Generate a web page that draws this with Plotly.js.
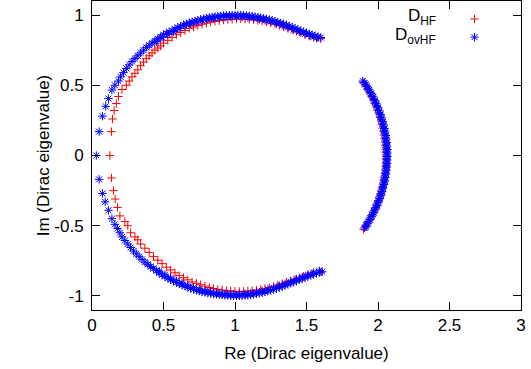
<!DOCTYPE html>
<html>
<head>
<meta charset="utf-8">
<script src="https://cdn.plot.ly/plotly-3.0.1.min.js"></script>
<style>html,body{margin:0;padding:0;background:#fff}#chart{width:531px;height:369px}</style>
</head>
<body>
<div id="chart"></div>
<script>
// D_HF (red +) : left arc upper, left arc lower, right arc
const hfRe = [
  0.125,0.136,0.143,0.155,0.17,0.185,0.21,0.24,0.26,0.28,0.30,0.32,0.34,0.36,0.38,0.40,0.42,0.44,0.46,0.48,0.50,0.53,0.56,0.59,0.62,0.65,0.68,0.71,0.74,0.77,0.80,0.83,0.86,0.89,0.92,0.95,0.98,1.01,1.04,1.07,1.10,1.13,1.16,1.19,1.22,1.25,1.28,1.31,1.34,1.37,1.40,1.43,1.46,1.49,1.52,1.55,1.58,1.60,
  0.136,0.15,0.162,0.178,0.195,0.23,0.25,0.27,0.30,0.32,0.34,0.37,0.40,0.43,0.46,0.49,0.52,0.55,0.58,0.61,0.64,0.67,0.70,0.73,0.76,0.79,0.82,0.85,0.88,0.91,0.94,0.97,1.00,1.03,1.06,1.09,1.12,1.15,1.18,1.21,1.24,1.27,1.30,1.33,1.36,1.39,1.42,1.45,1.48,1.51,1.54,1.57,1.60,
  1.897,1.913,1.928,1.942,1.955,1.967,1.978,1.988,1.997,2.006,2.014,2.021,2.027,2.033,2.038,2.042,2.046,2.049,2.052,2.054,2.055,2.056,2.056,2.055,2.053,2.051,2.048,2.044,2.040,2.035,2.029,2.023,2.016,2.008,1.999,1.989,1.979,1.967,1.955,1.942,1.928,1.913,1.899
];
const hfIm = [
  0.0,0.17,0.26,0.32,0.37,0.42,0.47,0.50,0.53,0.56,0.585,0.61,0.64,0.665,0.69,0.71,0.73,0.75,0.765,0.78,0.80,0.82,0.84,0.86,0.875,0.89,0.905,0.915,0.925,0.935,0.943,0.95,0.955,0.96,0.965,0.968,0.97,0.972,0.973,0.972,0.97,0.967,0.962,0.957,0.95,0.943,0.935,0.926,0.916,0.905,0.895,0.884,0.872,0.861,0.85,0.843,0.836,0.832,
  -0.16,-0.25,-0.31,-0.37,-0.43,-0.47,-0.50,-0.55,-0.58,-0.60,-0.63,-0.66,-0.69,-0.72,-0.745,-0.77,-0.795,-0.815,-0.835,-0.855,-0.87,-0.885,-0.90,-0.91,-0.92,-0.93,-0.94,-0.947,-0.953,-0.958,-0.962,-0.965,-0.967,-0.968,-0.967,-0.965,-0.962,-0.958,-0.953,-0.947,-0.94,-0.932,-0.923,-0.913,-0.903,-0.893,-0.882,-0.871,-0.86,-0.85,-0.842,-0.835,-0.83,
  0.52,0.495,0.47,0.445,0.42,0.395,0.37,0.345,0.32,0.295,0.27,0.245,0.22,0.195,0.17,0.145,0.12,0.095,0.07,0.045,0.02,-0.005,-0.03,-0.055,-0.08,-0.105,-0.13,-0.155,-0.18,-0.205,-0.23,-0.255,-0.28,-0.305,-0.33,-0.355,-0.38,-0.405,-0.43,-0.455,-0.48,-0.505,-0.525
];
// D_ovHF (blue asterisk)
const ovRe = [
  0.03,0.05,0.073,0.096,0.115,0.139,0.16,0.185,0.20,0.22,0.24,0.26,0.28,0.30,0.32,0.34,0.36,0.38,0.40,0.42,0.44,0.46,0.48,0.50,0.52,0.54,0.56,0.58,0.60,0.62,0.64,0.66,0.68,0.70,0.72,0.74,0.76,0.78,0.80,0.82,0.84,0.86,0.88,0.90,0.92,0.94,0.96,0.98,1.00,1.02,1.04,1.06,1.08,1.10,1.12,1.14,1.16,1.18,1.20,1.22,1.24,1.26,1.28,1.30,1.32,1.34,1.36,1.38,1.40,1.42,1.44,1.46,1.48,1.50,1.52,1.54,1.56,1.58,1.60,
  0.45,0.49,0.53,0.57,0.61,0.65,0.69,0.73,0.77,0.81,0.85,0.89,0.93,0.97,1.01,1.05,1.09,1.13,1.17,1.21,1.25,1.29,1.33,1.37,1.41,1.45,1.49,1.53,1.57,
  0.05,0.073,0.092,0.115,0.139,0.16,0.178,0.195,0.21,0.23,0.25,0.27,0.29,0.31,0.33,0.35,0.37,0.39,0.41,0.43,0.45,0.47,0.49,0.51,0.53,0.55,0.57,0.59,0.61,0.63,0.65,0.67,0.69,0.71,0.73,0.75,0.77,0.79,0.81,0.83,0.85,0.87,0.89,0.91,0.93,0.95,0.97,0.99,1.01,1.03,1.05,1.07,1.09,1.11,1.13,1.15,1.17,1.19,1.21,1.23,1.25,1.27,1.29,1.31,1.33,1.35,1.37,1.39,1.41,1.43,1.45,1.47,1.49,1.51,1.53,1.55,1.57,1.59,1.61,
  0.47,0.51,0.55,0.59,0.63,0.67,0.71,0.75,0.79,0.83,0.87,0.91,0.95,0.99,1.03,1.07,1.11,1.15,1.19,1.23,1.27,1.31,1.35,1.39,1.43,1.47,1.51,1.55,1.59,
  1.893,1.910,1.926,1.940,1.954,1.967,1.978,1.989,1.999,2.008,2.017,2.024,2.031,2.037,2.042,2.047,2.051,2.054,2.057,2.058,2.060,2.060,2.060,2.059,2.057,2.055,2.052,2.048,2.044,2.039,2.033,2.027,2.020,2.012,2.003,1.993,1.983,1.971,1.959,1.946,1.932,1.917,1.905,
  1.908,1.924,1.939,1.953,1.966,1.978,1.990,2.000,2.010,2.018,2.026,2.033,2.040,2.045,2.050,2.055,2.058,2.061,2.063,2.065,2.066,2.066,2.065,2.064,2.062,2.059,2.056,2.052,2.047,2.042,2.036,2.029,2.022,2.013,2.004,1.994,1.983,1.971,1.958,1.945,1.930,1.917
];
const ovIm = [
  0.0,0.17,0.28,0.35,0.405,0.466,0.50,0.53,0.56,0.59,0.62,0.645,0.67,0.69,0.71,0.73,0.75,0.77,0.785,0.80,0.815,0.83,0.845,0.86,0.87,0.88,0.89,0.90,0.912,0.92,0.93,0.937,0.945,0.952,0.958,0.964,0.969,0.974,0.978,0.983,0.986,0.989,0.992,0.994,0.996,0.997,0.998,0.999,1.0,1.0,0.999,0.998,0.996,0.994,0.991,0.988,0.985,0.981,0.977,0.972,0.967,0.962,0.956,0.95,0.943,0.936,0.929,0.921,0.913,0.905,0.897,0.889,0.881,0.873,0.866,0.859,0.852,0.846,0.84,
  0.811,0.841,0.863,0.883,0.904,0.922,0.937,0.949,0.960,0.969,0.976,0.981,0.985,0.987,0.988,0.987,0.983,0.978,0.971,0.963,0.953,0.941,0.928,0.913,0.897,0.881,0.865,0.851,0.837,
  -0.17,-0.27,-0.33,-0.39,-0.45,-0.49,-0.52,-0.55,-0.58,-0.605,-0.63,-0.655,-0.68,-0.70,-0.72,-0.74,-0.76,-0.775,-0.79,-0.805,-0.82,-0.835,-0.85,-0.862,-0.873,-0.884,-0.894,-0.904,-0.914,-0.922,-0.93,-0.938,-0.946,-0.953,-0.959,-0.965,-0.97,-0.975,-0.979,-0.983,-0.986,-0.989,-0.992,-0.994,-0.996,-0.997,-0.998,-0.999,-1.0,-0.999,-0.998,-0.997,-0.995,-0.992,-0.989,-0.985,-0.981,-0.977,-0.972,-0.966,-0.96,-0.954,-0.947,-0.94,-0.933,-0.925,-0.917,-0.909,-0.901,-0.893,-0.885,-0.877,-0.869,-0.861,-0.853,-0.846,-0.839,-0.833,-0.828,
  -0.823,-0.850,-0.872,-0.892,-0.910,-0.926,-0.941,-0.953,-0.963,-0.971,-0.977,-0.982,-0.985,-0.987,-0.987,-0.985,-0.980,-0.973,-0.965,-0.954,-0.942,-0.928,-0.913,-0.897,-0.881,-0.865,-0.849,-0.834,-0.821,
  0.53,0.505,0.48,0.455,0.43,0.405,0.38,0.355,0.33,0.305,0.28,0.255,0.23,0.205,0.18,0.155,0.13,0.105,0.08,0.055,0.03,0.005,-0.02,-0.045,-0.07,-0.095,-0.12,-0.145,-0.17,-0.195,-0.22,-0.245,-0.27,-0.295,-0.32,-0.345,-0.37,-0.395,-0.42,-0.445,-0.47,-0.495,-0.515,
  0.5175,0.4925,0.4675,0.4425,0.4175,0.3925,0.3675,0.3425,0.3175,0.2925,0.2675,0.2425,0.2175,0.1925,0.1675,0.1425,0.1175,0.0925,0.0675,0.0425,0.0175,-0.0075,-0.0325,-0.0575,-0.0825,-0.1075,-0.1325,-0.1575,-0.1825,-0.2075,-0.2325,-0.2575,-0.2825,-0.3075,-0.3325,-0.3575,-0.3825,-0.4075,-0.4325,-0.4575,-0.4825,-0.5075
];
const seriesNames = ['D<sub>HF</sub>', 'D<sub>ovHF</sub>'];
const xTicks = [0, 0.5, 1, 1.5, 2, 2.5, 3];
const yTicks = [-1, -0.5, 0, 0.5, 1];

const FONT = 'Liberation Sans, Arial, Helvetica, sans-serif';

const traces = [
  {x: hfRe, y: hfIm, type: 'scatter', mode: 'markers', name: '', legend: 'legend',
   marker: {symbol: 'cross-thin-open', size: 6, color: '#ff0000', line: {color: '#ff0000', width: 1}}},
  {x: ovRe, y: ovIm, type: 'scatter', mode: 'markers', name: '', legend: 'legend2',
   marker: {symbol: 'asterisk-open', size: 7, color: '#0000ff', line: {color: '#0000ff', width: 1}}}
];

const axisCommon = {
  showgrid: false, zeroline: false, showline: true, linecolor: '#000', linewidth: 1,
  mirror: 'allticks', ticks: 'inside', ticklen: 8, tickcolor: '#000', tickwidth: 1,
  tickfont: {family: FONT, size: 17, color: '#000'}
};

const legendCommon = {xanchor: 'left', yanchor: 'top', bgcolor: 'rgba(0,0,0,0)',
                      font: {size: 10}, itemwidth: 30, tracegroupgap: 0};

const layout = {
  width: 531, height: 369,
  margin: {l: 92, r: 10, t: 1, b: 59},
  paper_bgcolor: '#fff', plot_bgcolor: '#fff',
  font: {family: FONT, size: 17, color: '#000'},
  xaxis: Object.assign({}, axisCommon, {
    range: [0, 3], tickvals: xTicks, ticktext: xTicks.map(String),
    title: {text: 'Re (Dirac eigenvalue)', font: {family: FONT, size: 17}, standoff: 12}
  }),
  yaxis: Object.assign({}, axisCommon, {
    range: [-1.1, 1.1], tickvals: yTicks, ticktext: yTicks.map(String),
    ticklabelstandoff: 4,
    title: {text: 'Im (Dirac eigenvalue)', font: {family: FONT, size: 17}, standoff: 0}
  }),
  showlegend: true,
  legend: Object.assign({}, legendCommon, {x: 0.845, y: 0.9887}),
  legend2: Object.assign({}, legendCommon, {x: 0.845, y: 0.930}),
  annotations: [
    {text: seriesNames[0], xref: 'paper', yref: 'paper', x: 0.8065, y: 0.948, xanchor: 'right', yanchor: 'middle', showarrow: false, font: {family: FONT, size: 17}},
    {text: seriesNames[1], xref: 'paper', yref: 'paper', x: 0.8065, y: 0.888, xanchor: 'right', yanchor: 'middle', showarrow: false, font: {family: FONT, size: 17}}
  ]
};

Plotly.newPlot('chart', traces, layout, {displayModeBar: false, staticPlot: true});
</script>
</body>
</html>
